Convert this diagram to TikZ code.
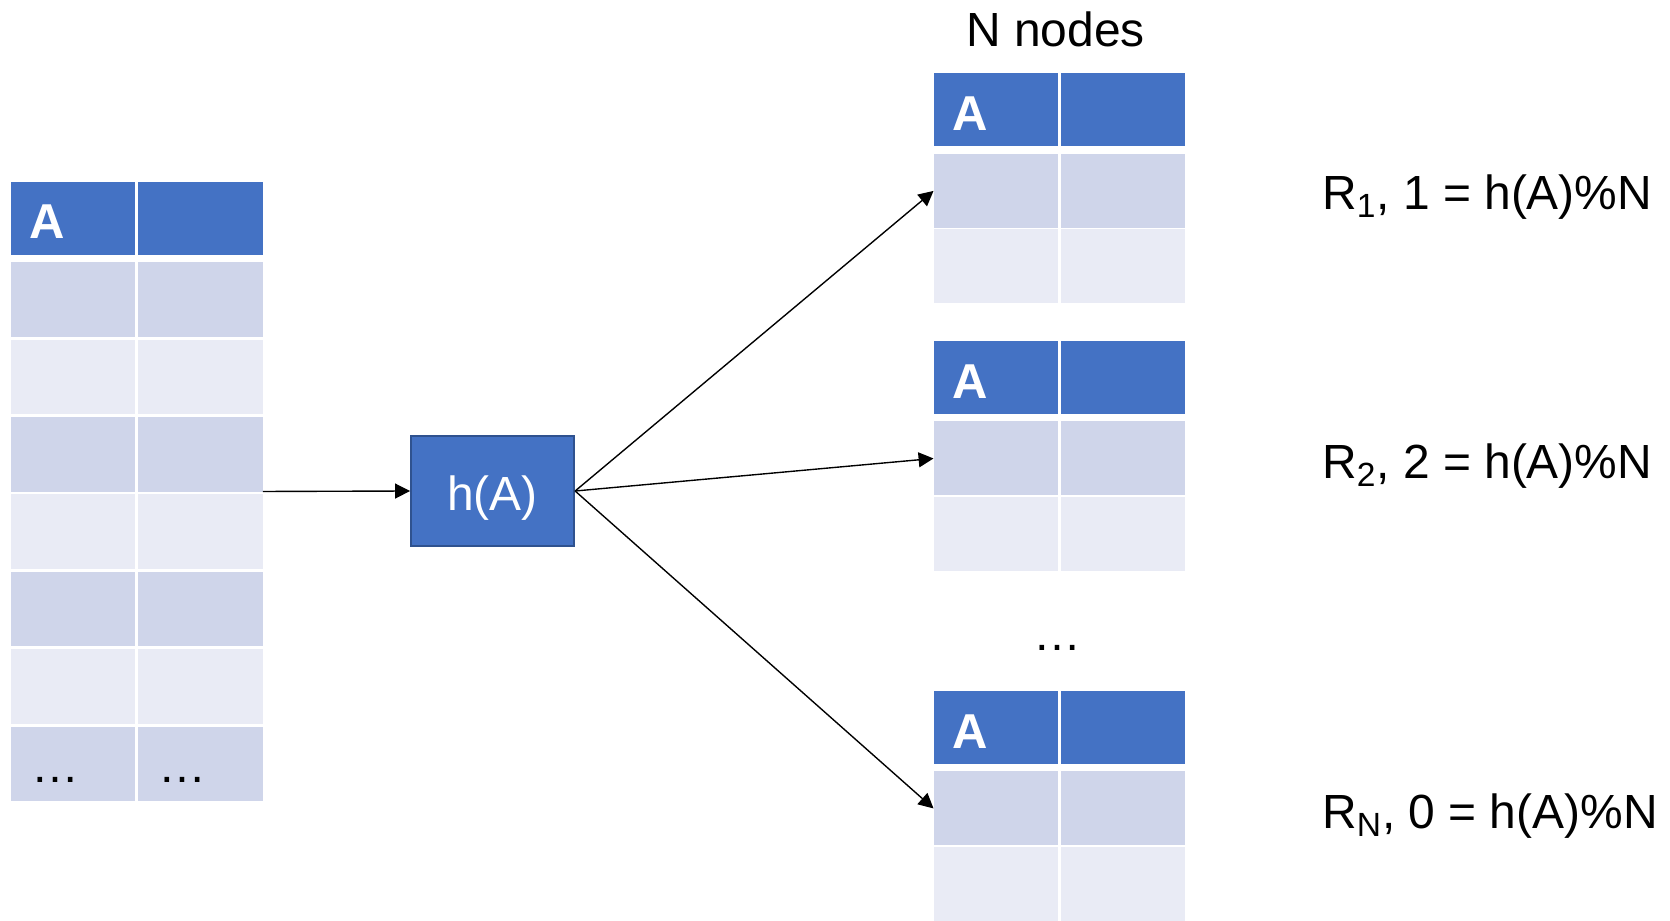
\documentclass[tikz,border=0pt]{standalone}
\usepackage{fontspec}
\setmainfont{Liberation Sans}
\usetikzlibrary{arrows.meta,fit}
\definecolor{hdr}{HTML}{4472C4}
\definecolor{rowA}{HTML}{CFD5EA}
\definecolor{rowB}{HTML}{E9EBF5}
\definecolor{boxline}{HTML}{2F528F}
\tikzset{
  cell/.style={inner sep=0pt, outer sep=0pt, draw=none, minimum width=58.5pt, anchor=north west},
  hcell/.style={cell, fill=hdr, minimum height=34.2pt},
  atext/.style={text=white, inner sep=0pt, anchor=base west, font=\fontsize{23}{27}\selectfont\bfseries},
  lbl/.style={inner sep=0pt, anchor=base west},
  hbox/.style={fill=hdr, draw=boxline, line width=1pt, minimum width=76.5pt, minimum height=51.5pt, inner sep=0pt, text=white, text height=18.5pt, text depth=0pt},
  conn/.style={line width=0.65pt, -{Triangle[length=7pt,width=7pt]}},
}
% #1 name, #2 x, #3 y of header top, #4 rows, #5 row pitch, #6 row height
\newcommand\dbtable[6]{%
  \node[hcell] (#1-h-a) at (#2,#3) {};
  \node[hcell] (#1-h-b) at (#2+119.5,#3) {};
  \node[atext] (#1-A) at (#2+17.5,#3+53.7) {A};
  \foreach \k in {1,...,#4}{%
    \ifodd\k\relax\def\rc{rowA}\else\def\rc{rowB}\fi
    \node[cell, fill=\rc, minimum height={0.5pt*#6}] (#1-\k-a) at (#2,#3+75.5+\k*#5-#5) {};
    \node[cell, fill=\rc, minimum height={0.5pt*#6}] (#1-\k-b) at (#2+119.5,#3+75.5+\k*#5-#5) {};
  }%
}
\begin{document}
\begin{tikzpicture}[x=0.5pt,y=-0.5pt, font=\fontsize{22.5}{27}\selectfont]
\useasboundingbox (0,0) rectangle (1568,864);
\fill[white] (0,0) rectangle (1568,864);
% left table
\dbtable{L}{10}{170.6}{7}{72.7}{70}
\node[fit=(L-h-a)(L-7-b), inner sep=0pt] (L) {};
\node[lbl] (Ld1) at (29,735) {…};
\node[lbl] (Ld2) at (148.5,735) {…};
% hash box
\node[hbox] (H) at (462.5,461) {h(A)};
% right tables
\dbtable{R1}{876.5}{69}{2}{70.5}{69.5}
\dbtable{R2}{876.5}{320.2}{2}{70.5}{69.5}
\dbtable{R3}{876.5}{648.8}{2}{70.5}{69.5}
\node[inner sep=0pt, anchor=base] (nn) at (991,44) {N nodes};
\node[inner sep=0pt, anchor=base] (rd) at (993,611) {…};
% labels
\node[lbl] (lab1) at (1241,197) {R\textsubscript{1}, 1 = h(A)\%N};
\node[lbl] (lab2) at (1241,449) {R\textsubscript{2}, 2 = h(A)\%N};
\node[lbl] (lab3) at (1241,778) {R\textsubscript{N}, 0 = h(A)\%N};
% connectors
\draw[conn] (L.east) -- (H.west);
\draw[conn] (H.east) -- (R1-1-a.west);
\draw[conn] (H.east) -- (R2-1-a.west);
\draw[conn] (H.east) -- (R3-1-a.west);
\end{tikzpicture}
\end{document}
